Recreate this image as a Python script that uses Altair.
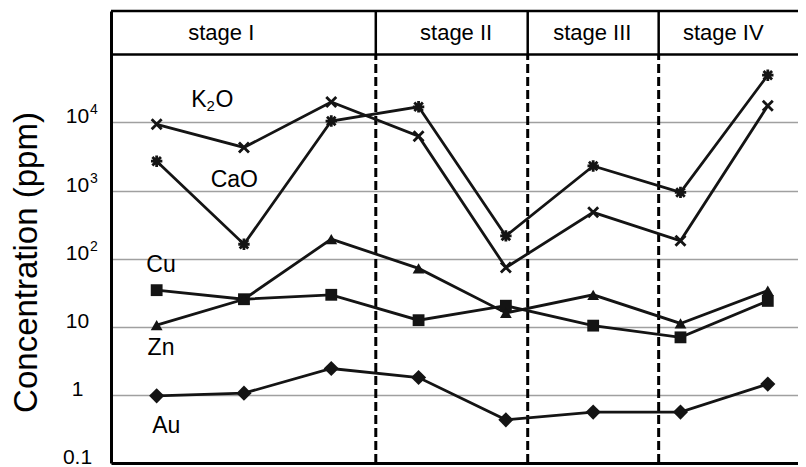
import altair as alt
import pandas as pd

# ---- data ----
positions = [0, 1, 2, 3, 4, 5, 6, 7]
series_names = ["K2O", "CaO", "Cu", "Zn", "Au"]
k2o = [9400, 4300, 20000, 6300, 74, 480, 183, 17600]
cao = [2700, 163, 10500, 17000, 216, 2300, 940, 49500]
cu = [34.5, 25.4, 29.5, 12.5, 20.4, 10.4, 7.0, 24]
zn = [10.6, 25.4, 194, 72, 16, 29.5, 11.2, 34]
au = [0.97, 1.06, 2.44, 1.8, 0.43, 0.56, 0.56, 1.44]

stage_names = ["stage I", "stage II", "stage III", "stage IV"]
stage_label_pos = [0.74, 3.43, 4.99, 6.49]
stage_bounds = [2.51, 4.25, 5.75]

tick_values = [0.1, 1, 10, 100, 1000, 10000]
tick_base = ["0.1", "1", "10", "10", "10", "10"]
tick_exp = ["", "", "", "2", "3", "4"]

# inline series labels (K2O written with a subscript 2)
formula_main = ["K", "CaO", "Cu", "Zn", "Au"]
formula_sub = ["2", "", "", "", ""]
formula_tail = ["O", "", "", "", ""]
label_pos = [0.64, 0.89, 0.05, 0.05, 0.11]
label_val = [16900, 1130, 63.8, 3.86, 0.276]

header_value = 100000
y_min, y_max = 0.1, 433500
x_min, x_max = -0.523, 7.346

# ---- tables ----
values = {"K2O": k2o, "CaO": cao, "Cu": cu, "Zn": zn, "Au": au}
rows = []
for s in series_names:
    for p, v in zip(positions, values[s]):
        rows.append({"series": s, "pos": p, "value": v})
df = pd.DataFrame(rows)

bounds_df = pd.DataFrame({"pos": stage_bounds, "lo": [y_min] * 3, "hi": [header_value] * 3})
stage_df = pd.DataFrame({"pos": stage_label_pos, "name": stage_names})
lab_df = pd.DataFrame({"pos": label_pos, "value": label_val, "main": formula_main,
                       "sub": formula_sub, "tail": formula_tail})
tick_df = pd.DataFrame({"value": tick_values, "base": tick_base, "exp": tick_exp})
header_df = pd.DataFrame({"value": [header_value]})

FONT = "Liberation Sans"
INK = "#141414"

xs = alt.Scale(domain=[x_min, x_max], nice=False, zero=False)
ys = alt.Scale(type="log", domain=[y_min, y_max], nice=False)

x_axis = alt.Axis(labels=False, ticks=False, grid=False, title=None,
                  domainColor="black", domainWidth=3)
y_axis = alt.Axis(values=tick_values, labels=False, grid=True,
                  gridColor="#a0a0a0", gridWidth=1.5, ticks=False,
                  domainColor="black", domainWidth=3,
                  title="Concentration (ppm)", titleFont=FONT, titleFontSize=33,
                  titleFontWeight="normal", titleColor="black",
                  titleX=-85, titleY=251, titleAlign="center", titleBaseline="middle")

base = alt.Chart(df)

lines = base.mark_line(color=INK, strokeWidth=2.8).encode(
    x=alt.X("pos:Q", scale=xs, axis=x_axis),
    y=alt.Y("value:Q", scale=ys, axis=y_axis),
    detail="series:N",
)

layers = [lines]

filled_shapes = {"Cu": ("square", 140), "Zn": ("triangle-up", 140), "Au": ("diamond", 230)}
for s, (shape, size) in filled_shapes.items():
    layers.append(
        base.transform_filter(alt.datum.series == s)
        .mark_point(shape=shape, size=size, filled=True, color=INK, opacity=1)
        .encode(x=alt.X("pos:Q", scale=xs), y=alt.Y("value:Q", scale=ys))
    )

stroked_shapes = {
    "K2O": ("M-1,-1L1,1M-1,1L1,-1", 100),
    "CaO": ("M0,-1L0,1M-1,0L1,0M-0.75,-0.75L0.75,0.75M-0.75,0.75L0.75,-0.75", 130),
}
for s, (shape, size) in stroked_shapes.items():
    layers.append(
        base.transform_filter(alt.datum.series == s)
        .mark_point(shape=shape, size=size, filled=False, color=INK, strokeWidth=2.8, opacity=1)
        .encode(x=alt.X("pos:Q", scale=xs), y=alt.Y("value:Q", scale=ys))
    )

dashed = alt.Chart(bounds_df).mark_rule(color="black", strokeWidth=3, strokeDash=[9, 4]).encode(
    x=alt.X("pos:Q", scale=xs), y=alt.Y("lo:Q", scale=ys), y2="hi:Q"
)
dividers = alt.Chart(bounds_df).mark_rule(color="black", strokeWidth=2.5).encode(
    x=alt.X("pos:Q", scale=xs), y=alt.Y("hi:Q", scale=ys), y2=alt.value(0)
)
header_line = alt.Chart(header_df).mark_rule(color="black", strokeWidth=2.5).encode(
    y=alt.Y("value:Q", scale=ys)
)
top_line = alt.Chart(header_df).mark_rule(color="black", strokeWidth=2.5).encode(
    y=alt.value(0)
)
stage_text = alt.Chart(stage_df).mark_text(font=FONT, fontSize=22, color="black",
                                           align="center", baseline="middle").encode(
    x=alt.X("pos:Q", scale=xs), y=alt.value(22), text="name:N"
)

lab = alt.Chart(lab_df)
main_text = lab.mark_text(font=FONT, fontSize=23, color="black", align="center",
                          baseline="alphabetic").encode(
    x=alt.X("pos:Q", scale=xs), y=alt.Y("value:Q", scale=ys), text="main:N"
).transform_filter("datum.sub == ''")
k_text = lab.mark_text(font=FONT, fontSize=23, color="black", align="right",
                       baseline="alphabetic", dx=-6).encode(
    x=alt.X("pos:Q", scale=xs), y=alt.Y("value:Q", scale=ys), text="main:N"
).transform_filter("datum.sub != ''")
sub_text = lab.mark_text(font=FONT, fontSize=15, color="black", align="left",
                         baseline="alphabetic", dx=-6, dy=4).encode(
    x=alt.X("pos:Q", scale=xs), y=alt.Y("value:Q", scale=ys), text="sub:N"
).transform_filter("datum.sub != ''")
tail_text = lab.mark_text(font=FONT, fontSize=23, color="black", align="left",
                          baseline="alphabetic", dx=3).encode(
    x=alt.X("pos:Q", scale=xs), y=alt.Y("value:Q", scale=ys), text="tail:N"
).transform_filter("datum.sub != ''")

tk = alt.Chart(tick_df)
tick_text = tk.mark_text(font=FONT, fontSize=21, color="black", align="center",
                         baseline="alphabetic", dy=1).encode(
    x=alt.value(-33.5), y=alt.Y("value:Q", scale=ys), text="base:N"
)
exp_text = tk.mark_text(font=FONT, fontSize=14, color="black", align="left",
                        baseline="alphabetic", dy=-8).encode(
    x=alt.value(-21), y=alt.Y("value:Q", scale=ys), text="exp:N"
)

chart = alt.layer(
    dashed, *layers, dividers, header_line, top_line, stage_text,
    main_text, k_text, sub_text, tail_text, tick_text, exp_text
).properties(
    width=687, height=452,
    padding={"left": 103, "top": 3, "right": 0, "bottom": 4},
    autosize=alt.AutoSizeParams(type="none"),
    background="white",
).configure_view(stroke=None)

chart.save("out.html", embed_options={"renderer": "svg", "actions": False})
